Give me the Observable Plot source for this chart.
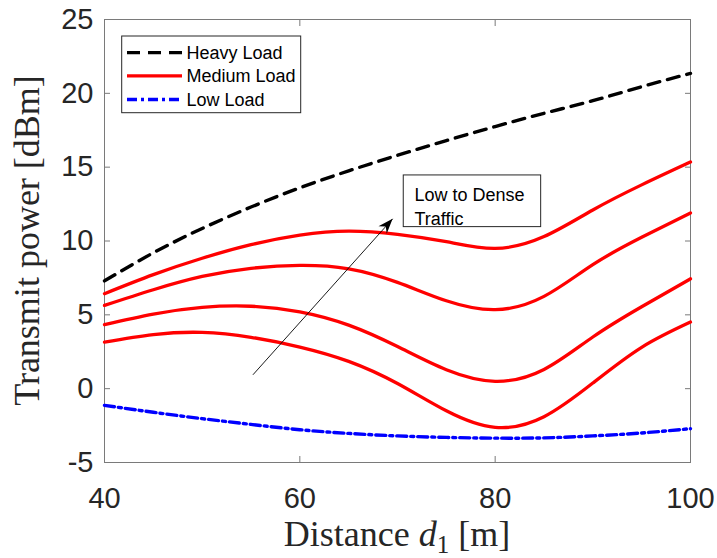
<!DOCTYPE html>
<html>
<head>
<meta charset="utf-8">
<script src="https://cdn.jsdelivr.net/npm/d3@7"></script>
<script src="https://cdn.jsdelivr.net/npm/@observablehq/plot@0.6"></script>
<style>
  html, body { margin: 0; padding: 0; background: #fff; }
  #chart { width: 717px; height: 558px; }
</style>
</head>
<body>
<div id="chart"></div>
<script>
// ---- data ----
const distance = [40, 45, 50, 55, 60, 65, 70, 75, 80, 85, 90, 95, 100];
const heavyLoad   = [7.3, 9.2, 10.85, 12.3, 13.6, 14.75, 15.8, 16.8, 17.75, 18.65, 19.5, 20.45, 21.35];
const mediumLoad1 = [3.15, 3.66, 3.81, 3.48, 2.82, 1.85, 0.35, -1.5, -2.62, -1.9, 0.38, 2.8, 4.51];
const mediumLoad2 = [4.33, 5.05, 5.5, 5.58, 5.2, 4.3, 2.85, 1.28, 0.5, 1.3, 3.5, 5.55, 7.44];
const mediumLoad3 = [5.64, 6.7, 7.6, 8.15, 8.35, 8.12, 7.2, 5.95, 5.35, 6.25, 8.4, 10.25, 11.9];
const mediumLoad4 = [6.43, 7.72, 8.83, 9.75, 10.4, 10.67, 10.45, 9.95, 9.5, 10.3, 12.1, 13.8, 15.35];
const lowLoad     = [-1.13, -1.6, -2.03, -2.42, -2.78, -3.03, -3.2, -3.3, -3.35, -3.33, -3.2, -3.0, -2.71];
const xTicks = [40, 60, 80, 100];
const yTicks = [-5, 0, 5, 10, 15, 20, 25];
const legendLabels = ["Heavy Load", "Medium Load", "Low Load"];
const noteLines = ["Low to Dense", "Traffic"];
const noteBoxX = [70.64, 84.71];
const noteBoxY = [10.94, 14.44];
const noteTextAt = [71.74, 13.8];
const arrowFrom = [55.2, 0.94];
const arrowTo = [69.5, 11.5];

// ---- build tables ----
const heavyRows = distance.map((x, i) => ({x, y: heavyLoad[i]}));
const lowRows = distance.map((x, i) => ({x, y: lowLoad[i]}));
const mediumRows = [mediumLoad1, mediumLoad2, mediumLoad3, mediumLoad4]
  .flatMap((s, k) => distance.map((x, i) => ({x, y: s[i], series: k})));

const W = 717, H = 558;
const M = {top: 19, right: 27, bottom: 96, left: 104};
const xDomain = [40, 100], yDomain = [-5, 25];

// rotation of arrow head in screen space
const sx = d3.scaleLinear(xDomain, [M.left, W - M.right]);
const sy = d3.scaleLinear(yDomain, [H - M.bottom, M.top]);
const adx = sx(arrowTo[0]) - sx(arrowFrom[0]);
const ady = sy(arrowTo[1]) - sy(arrowFrom[1]);
const headAngle = Math.atan2(adx, -ady) * 180 / Math.PI;
const arrowHead = {
  draw(ctx) {
    const L = 15, Wd = 11;
    ctx.moveTo(0, 0);
    ctx.lineTo(-Wd / 2, L);
    ctx.lineTo(0, L * 0.68);
    ctx.lineTo(Wd / 2, L);
    ctx.closePath();
  }
};

const axisColor = "#7a7a7a";
const textColor = "#262626";
const fmt = d => String(d);
const curve = "natural";

const plot = Plot.plot({
  width: W, height: H,
  marginTop: M.top, marginRight: M.right, marginBottom: M.bottom, marginLeft: M.left,
  style: {fontFamily: "'Liberation Sans', Arial, sans-serif", background: "#fff"},
  x: {domain: xDomain},
  y: {domain: yDomain},
  marks: [
    // tick labels
    Plot.axisX({ticks: xTicks, anchor: "bottom", tickSize: 0, tickPadding: 25, fontSize: 29, fill: textColor, tickFormat: fmt, label: null}),
    Plot.axisY({ticks: yTicks, anchor: "left", tickSize: 0, tickPadding: 11, fontSize: 29, fill: textColor, tickFormat: fmt, label: null}),
    // inward tick marks on all four sides
    Plot.axisX({ticks: xTicks, anchor: "bottom", tickSize: 6, dy: -6, tickFormat: () => "", stroke: axisColor, label: null}),
    Plot.axisX({ticks: xTicks, anchor: "top", tickSize: 6, dy: 6, tickFormat: () => "", stroke: axisColor, label: null}),
    Plot.axisY({ticks: yTicks, anchor: "left", tickSize: 6, dx: 6, tickFormat: () => "", stroke: axisColor, label: null}),
    Plot.axisY({ticks: yTicks, anchor: "right", tickSize: 6, dx: -6, tickFormat: () => "", stroke: axisColor, label: null}),
    Plot.frame({stroke: axisColor, strokeWidth: 1}),
    // series
    Plot.line(heavyRows, {x: "x", y: "y", stroke: "black", strokeWidth: 3.4, strokeDasharray: "12,8", curve}),
    Plot.line(mediumRows, {x: "x", y: "y", z: "series", stroke: "#ff0000", strokeWidth: 3.3, curve}),
    Plot.line(lowRows, {x: "x", y: "y", stroke: "#0000ff", strokeWidth: 3.4, strokeDasharray: "10,4,3,4", curve}),
    // annotation
    Plot.link([{x1: arrowFrom[0], y1: arrowFrom[1], x2: arrowTo[0], y2: arrowTo[1]}],
      {x1: "x1", y1: "y1", x2: "x2", y2: "y2", stroke: "black", strokeWidth: 0.9}),
    Plot.dot([arrowTo], {x: d => d[0], y: d => d[1], symbol: arrowHead, r: 3, fill: "black", stroke: "none", rotate: headAngle}),
    Plot.rect([{}], {x1: noteBoxX[0], x2: noteBoxX[1], y1: noteBoxY[0], y2: noteBoxY[1], fill: "white", stroke: textColor, strokeWidth: 1}),
    Plot.text([noteLines.join("\n")], {x: noteTextAt[0], y: noteTextAt[1], text: d => d, textAnchor: "start", lineAnchor: "top", lineHeight: 1.3, fontSize: 18, fill: "black"})
  ]
});

const svg = d3.select(plot);

// axis titles (serif, with italic subscripted d1)
const xl = svg.append("text")
  .attr("x", (M.left + W - M.right) / 2).attr("y", 546)
  .attr("text-anchor", "middle")
  .attr("font-family", "'Liberation Serif', 'Times New Roman', serif")
  .attr("font-size", 36).attr("fill", textColor);
xl.append("tspan").text("Distance ");
xl.append("tspan").attr("font-style", "italic").text("d");
xl.append("tspan").attr("font-size", 25).attr("dy", 7).text("1");
xl.append("tspan").attr("dy", -7).text(" [m]");

svg.append("text")
  .attr("transform", `translate(38.5,${(M.top + H - M.bottom) / 2}) rotate(-90)`)
  .attr("text-anchor", "middle")
  .attr("font-family", "'Liberation Serif', 'Times New Roman', serif")
  .attr("font-size", 36).attr("fill", textColor)
  .text("Transmit power [dBm]");

// legend
const lg = svg.append("g");
lg.append("rect").attr("x", 121.7).attr("y", 36).attr("width", 179).attr("height", 76.7)
  .attr("fill", "white").attr("stroke", textColor).attr("stroke-width", 1);
const legendStyles = [
  {stroke: "black", dash: "13,8"},
  {stroke: "#ff0000", dash: null},
  {stroke: "#0000ff", dash: "10,4,3,4"}
];
const legendY = [52.7, 75.8, 99.5];
legendLabels.forEach((lab, i) => {
  const s = legendStyles[i];
  const ln = lg.append("line").attr("x1", 127).attr("x2", 182).attr("y1", legendY[i]).attr("y2", legendY[i])
    .attr("stroke", s.stroke).attr("stroke-width", 3.3);
  if (s.dash) ln.attr("stroke-dasharray", s.dash);
  lg.append("text").attr("x", 186.5).attr("y", legendY[i]).attr("dy", "0.36em")
    .attr("text-anchor", "start")
    .attr("font-family", "'Liberation Sans', Arial, sans-serif").attr("font-size", 18)
    .attr("fill", "black").text(lab);
});

document.getElementById("chart").appendChild(plot);
</script>
</body>
</html>
